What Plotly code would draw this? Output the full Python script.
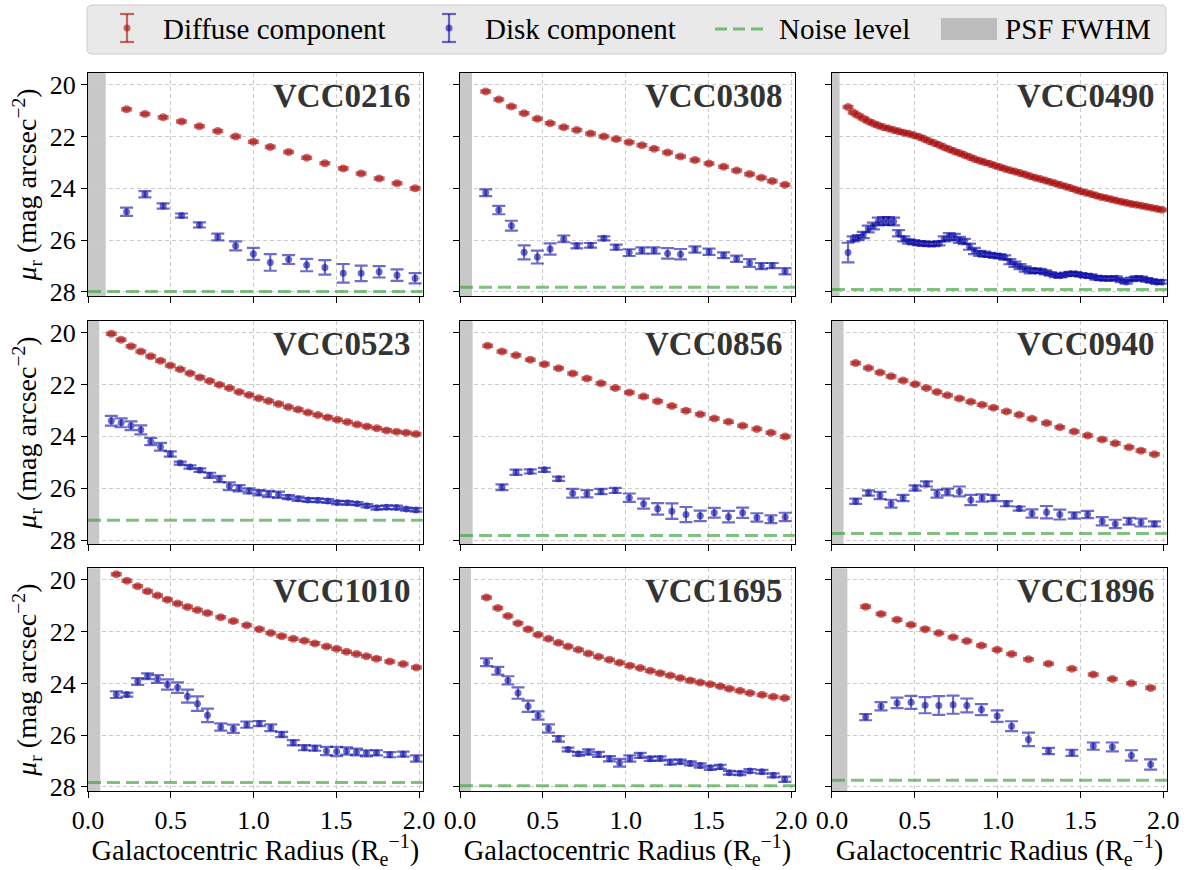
import plotly.graph_objects as go
from plotly.subplots import make_subplots

# ---------------------------------------------------------------------------
# Radial surface-brightness profiles (mu_r, mag arcsec^-2) vs R / R_e
# ---------------------------------------------------------------------------
GALAXIES = ["VCC0216", "VCC0308", "VCC0490",
            "VCC0523", "VCC0856", "VCC0940",
            "VCC1010", "VCC1695", "VCC1896"]

NOISE_LEVEL = [27.98, 27.82, 27.90, 27.23, 27.82, 27.74, 27.83, 27.95, 27.74]
PSF_FWHM = [0.107, 0.072, 0.046, 0.068, 0.076, 0.070, 0.074, 0.066, 0.093]
DIFF_ERR = 0.03

# VCC0216
R_0216 = [0.233, 0.344, 0.454, 0.565, 0.673, 0.784, 0.892, 0.999, 1.101, 1.212,
          1.321, 1.431, 1.542, 1.650, 1.759, 1.867, 1.976]
DIFF_0216 = [20.95, 21.13, 21.26, 21.42, 21.60, 21.79, 22.00, 22.20, 22.40, 22.60,
             22.82, 23.03, 23.23, 23.43, 23.62, 23.80, 24.00]
DISK_0216 = [24.90, 24.23, 24.68, 25.05, 25.41, 25.88, 26.22, 26.53, 26.86, 26.75,
             26.96, 27.05, 27.28, 27.28, 27.22, 27.35, 27.47]
DERR_0216 = [0.16, 0.12, 0.10, 0.08, 0.10, 0.13, 0.17, 0.23, 0.32, 0.17,
             0.24, 0.28, 0.36, 0.30, 0.22, 0.22, 0.20]

# VCC0308
R_0308 = [0.155, 0.234, 0.310, 0.387, 0.467, 0.544, 0.626, 0.705, 0.788, 0.868,
          0.943, 1.021, 1.098, 1.172, 1.253, 1.331, 1.418, 1.503, 1.591, 1.670,
          1.748, 1.819, 1.885, 1.962]
DIFF_0308 = [20.26, 20.57, 20.84, 21.10, 21.31, 21.49, 21.64, 21.75, 21.88, 22.00,
             22.10, 22.22, 22.34, 22.47, 22.62, 22.77, 22.91, 23.04, 23.17, 23.31,
             23.45, 23.59, 23.72, 23.86]
DISK_0308 = [24.17, 24.84, 25.44, 26.47, 26.65, 26.34, 25.95, 26.22, 26.20, 25.93,
             26.27, 26.48, 26.40, 26.40, 26.51, 26.54, 26.36, 26.45, 26.58, 26.72,
             26.88, 27.00, 26.98, 27.20]
DERR_0308 = [0.13, 0.16, 0.19, 0.27, 0.25, 0.22, 0.13, 0.10, 0.09, 0.08,
             0.10, 0.13, 0.12, 0.12, 0.20, 0.20, 0.12, 0.12, 0.11, 0.12,
             0.15, 0.12, 0.10, 0.12]

# VCC0490
R_0490 = [0.097, 0.128, 0.158, 0.189, 0.219, 0.250, 0.280, 0.311, 0.341, 0.372,
          0.402, 0.433, 0.463, 0.494, 0.524, 0.555, 0.585, 0.616, 0.647, 0.677,
          0.708, 0.738, 0.769, 0.799, 0.830, 0.860, 0.891, 0.921, 0.952, 0.982,
          1.013, 1.043, 1.074, 1.104, 1.135, 1.166, 1.196, 1.227, 1.257, 1.288,
          1.318, 1.349, 1.379, 1.410, 1.440, 1.471, 1.501, 1.532, 1.563, 1.593,
          1.624, 1.654, 1.685, 1.715, 1.746, 1.776, 1.807, 1.837, 1.868, 1.898,
          1.929, 1.960, 1.990]
DIFF_0490 = [20.86, 21.07, 21.19, 21.30, 21.41, 21.50, 21.57, 21.64, 21.69, 21.75,
             21.80, 21.85, 21.89, 21.95, 22.01, 22.09, 22.17, 22.25, 22.33, 22.41,
             22.49, 22.57, 22.64, 22.71, 22.79, 22.87, 22.93, 22.99, 23.05, 23.12,
             23.18, 23.24, 23.30, 23.35, 23.41, 23.47, 23.53, 23.59, 23.64, 23.70,
             23.75, 23.81, 23.87, 23.93, 23.99, 24.05, 24.11, 24.17, 24.22, 24.28,
             24.33, 24.37, 24.42, 24.47, 24.52, 24.56, 24.60, 24.63, 24.67, 24.71,
             24.75, 24.79, 24.83]
DISK_0490 = [26.48, 25.95, 25.90, 25.80, 25.57, 25.45, 25.28, 25.26, 25.26, 25.28,
             25.73, 25.95, 26.05, 26.08, 26.12, 26.13, 26.15, 26.15, 26.12, 25.95,
             25.86, 25.89, 25.99, 26.05, 26.25, 26.42, 26.51, 26.54, 26.57, 26.60,
             26.62, 26.67, 26.83, 26.93, 27.02, 27.11, 27.18, 27.18, 27.19, 27.24,
             27.30, 27.36, 27.37, 27.32, 27.29, 27.30, 27.34, 27.37, 27.39, 27.45,
             27.47, 27.48, 27.48, 27.47, 27.55, 27.61, 27.51, 27.47, 27.48, 27.53,
             27.57, 27.62, 27.61]
DERR_0490 = [0.38, 0.10, 0.10, 0.12, 0.13, 0.13, 0.15, 0.15, 0.15, 0.15,
             0.12, 0.10, 0.08, 0.08, 0.08, 0.08, 0.08, 0.08, 0.08, 0.10,
             0.13, 0.13, 0.12, 0.10, 0.12, 0.12, 0.10, 0.10, 0.08, 0.08,
             0.08, 0.08, 0.10, 0.10, 0.10, 0.10, 0.10, 0.08, 0.08, 0.08,
             0.07, 0.07, 0.07, 0.07, 0.07, 0.07, 0.07, 0.07, 0.07, 0.07,
             0.07, 0.07, 0.07, 0.07, 0.07, 0.07, 0.07, 0.07, 0.07, 0.07,
             0.07, 0.07, 0.07]

# VCC0523
R_0523 = [0.141, 0.200, 0.260, 0.319, 0.379, 0.438, 0.497, 0.557, 0.616, 0.676,
          0.735, 0.794, 0.854, 0.913, 0.973, 1.032, 1.091, 1.151, 1.210, 1.270,
          1.329, 1.388, 1.448, 1.507, 1.567, 1.626, 1.685, 1.745, 1.804, 1.864,
          1.923, 1.982]
DIFF_0523 = [20.05, 20.28, 20.53, 20.73, 20.92, 21.09, 21.27, 21.42, 21.57, 21.73,
             21.87, 22.01, 22.14, 22.29, 22.41, 22.53, 22.64, 22.75, 22.87, 22.97,
             23.08, 23.18, 23.27, 23.36, 23.45, 23.54, 23.62, 23.69, 23.77, 23.82,
             23.86, 23.91]
DISK_0523 = [23.40, 23.48, 23.59, 23.75, 24.20, 24.40, 24.68, 25.03, 25.18, 25.30,
             25.50, 25.64, 25.92, 26.00, 26.10, 26.17, 26.22, 26.25, 26.34, 26.40,
             26.45, 26.46, 26.49, 26.55, 26.56, 26.59, 26.67, 26.75, 26.73, 26.74,
             26.80, 26.83]
DERR_0523 = [0.19, 0.17, 0.17, 0.17, 0.14, 0.15, 0.10, 0.06, 0.06, 0.07,
             0.10, 0.12, 0.15, 0.12, 0.10, 0.10, 0.12, 0.12, 0.08, 0.08,
             0.07, 0.07, 0.07, 0.07, 0.07, 0.06, 0.06, 0.07, 0.07, 0.07,
             0.06, 0.07]

# VCC0856
R_DIFF_0856 = [0.167, 0.253, 0.338, 0.424, 0.509, 0.595, 0.680, 0.766, 0.851, 0.937,
               1.022, 1.108, 1.193, 1.279, 1.364, 1.450, 1.535, 1.621, 1.706, 1.792,
               1.877, 1.963]
DIFF_0856 = [20.51, 20.73, 20.88, 21.05, 21.22, 21.38, 21.58, 21.77, 21.96, 22.14,
             22.31, 22.47, 22.65, 22.83, 23.01, 23.15, 23.31, 23.44, 23.59, 23.72,
             23.86, 24.01]
R_DISK_0856 = [0.253, 0.338, 0.424, 0.509, 0.595, 0.680, 0.766, 0.851, 0.937,
               1.022, 1.108, 1.193, 1.279, 1.364, 1.450, 1.535, 1.621, 1.706, 1.792,
               1.877, 1.963]
DISK_0856 = [25.96, 25.38, 25.35, 25.29, 25.63, 26.19, 26.21, 26.12, 26.08, 26.36,
             26.59, 26.79, 26.88, 27.01, 27.06, 26.94, 27.09, 26.94, 27.12, 27.19,
             27.10]
DERR_0856 = [0.11, 0.10, 0.08, 0.08, 0.08, 0.17, 0.14, 0.10, 0.10, 0.16,
             0.19, 0.22, 0.30, 0.29, 0.20, 0.19, 0.22, 0.20, 0.16, 0.15,
             0.16]

# VCC0940
R_0940 = [0.143, 0.220, 0.290, 0.357, 0.429, 0.502, 0.570, 0.634, 0.697, 0.769,
          0.838, 0.906, 0.975, 1.053, 1.130, 1.207, 1.295, 1.375, 1.462, 1.543,
          1.631, 1.710, 1.793, 1.865, 1.946]
DIFF_0940 = [21.18, 21.37, 21.54, 21.69, 21.85, 21.99, 22.14, 22.29, 22.42, 22.54,
             22.67, 22.78, 22.90, 23.04, 23.17, 23.32, 23.49, 23.65, 23.81, 23.97,
             24.12, 24.27, 24.42, 24.55, 24.69]
DISK_0940 = [26.50, 26.18, 26.28, 26.59, 26.37, 25.99, 25.83, 26.21, 26.14, 26.12,
             26.45, 26.37, 26.37, 26.59, 26.78, 26.97, 26.92, 27.01, 27.05, 27.01,
             27.27, 27.37, 27.27, 27.32, 27.37]
DERR_0940 = [0.10, 0.10, 0.14, 0.15, 0.12, 0.10, 0.10, 0.15, 0.13, 0.19,
             0.20, 0.14, 0.12, 0.10, 0.08, 0.16, 0.24, 0.19, 0.12, 0.14,
             0.16, 0.16, 0.13, 0.15, 0.10]

# VCC1010
R_1010 = [0.171, 0.235, 0.300, 0.360, 0.420, 0.480, 0.541, 0.601, 0.661, 0.722,
          0.802, 0.878, 0.959, 1.035, 1.104, 1.170, 1.240, 1.307, 1.371, 1.441,
          1.502, 1.562, 1.622, 1.682, 1.743, 1.823, 1.904, 1.984]
DIFF_1010 = [19.78, 20.03, 20.24, 20.44, 20.60, 20.76, 20.91, 21.04, 21.16, 21.28,
             21.44, 21.59, 21.75, 21.90, 22.05, 22.17, 22.27, 22.35, 22.45, 22.57,
             22.66, 22.77, 22.86, 22.95, 23.04, 23.15, 23.25, 23.38]
DISK_1010 = [24.43, 24.43, 23.92, 23.72, 23.83, 24.04, 24.16, 24.49, 24.78, 25.23,
             25.68, 25.75, 25.59, 25.55, 25.71, 25.97, 26.29, 26.48, 26.50, 26.61,
             26.63, 26.61, 26.65, 26.70, 26.68, 26.75, 26.73, 26.90]
DERR_1010 = [0.13, 0.08, 0.13, 0.11, 0.15, 0.20, 0.20, 0.25, 0.28, 0.26,
             0.14, 0.16, 0.12, 0.10, 0.13, 0.10, 0.10, 0.10, 0.10, 0.16,
             0.18, 0.14, 0.13, 0.12, 0.10, 0.10, 0.10, 0.12]

# VCC1695
R_1695 = [0.160, 0.228, 0.289, 0.350, 0.411, 0.471, 0.534, 0.594, 0.652, 0.715,
          0.775, 0.836, 0.902, 0.963, 1.025, 1.088, 1.148, 1.208, 1.269, 1.329,
          1.390, 1.450, 1.511, 1.571, 1.626, 1.690, 1.750, 1.823, 1.891, 1.960]
DIFF_1695 = [20.68, 21.08, 21.39, 21.67, 21.90, 22.12, 22.27, 22.43, 22.57, 22.70,
             22.84, 22.97, 23.08, 23.20, 23.31, 23.40, 23.51, 23.60, 23.69, 23.79,
             23.88, 23.96, 24.03, 24.11, 24.20, 24.28, 24.37, 24.44, 24.51, 24.56]
DISK_1695 = [23.18, 23.51, 23.88, 24.37, 24.88, 25.24, 25.74, 26.14, 26.55, 26.72,
             26.65, 26.74, 26.91, 27.06, 26.90, 26.78, 26.91, 26.90, 27.04, 27.02,
             27.09, 27.17, 27.26, 27.22, 27.45, 27.47, 27.38, 27.41, 27.55, 27.70]
DERR_1695 = [0.15, 0.15, 0.16, 0.22, 0.22, 0.16, 0.16, 0.11, 0.07, 0.07,
             0.10, 0.10, 0.10, 0.15, 0.12, 0.10, 0.08, 0.08, 0.10, 0.08,
             0.08, 0.08, 0.08, 0.08, 0.07, 0.07, 0.07, 0.07, 0.08, 0.10]

# VCC1896
R_1896 = [0.203, 0.296, 0.393, 0.477, 0.562, 0.645, 0.731, 0.814, 0.902, 0.997,
          1.084, 1.186, 1.307, 1.448, 1.577, 1.692, 1.807, 1.923]
DIFF_1896 = [21.03, 21.31, 21.54, 21.73, 21.90, 22.05, 22.21, 22.36, 22.53, 22.70,
             22.86, 23.06, 23.24, 23.43, 23.65, 23.83, 23.99, 24.17]
DISK_1896 = [25.30, 24.88, 24.75, 24.73, 24.84, 24.85, 24.82, 24.85, 25.01, 25.26,
             25.65, 26.16, 26.61, 26.68, 26.42, 26.45, 26.78, 27.13]
DERR_1896 = [0.12, 0.16, 0.20, 0.25, 0.31, 0.36, 0.35, 0.27, 0.21, 0.22,
             0.19, 0.26, 0.12, 0.12, 0.14, 0.17, 0.20, 0.20]

profiles = {
    "VCC0216": (R_0216, DIFF_0216, R_0216, DISK_0216, DERR_0216),
    "VCC0308": (R_0308, DIFF_0308, R_0308, DISK_0308, DERR_0308),
    "VCC0490": (R_0490, DIFF_0490, R_0490, DISK_0490, DERR_0490),
    "VCC0523": (R_0523, DIFF_0523, R_0523, DISK_0523, DERR_0523),
    "VCC0856": (R_DIFF_0856, DIFF_0856, R_DISK_0856, DISK_0856, DERR_0856),
    "VCC0940": (R_0940, DIFF_0940, R_0940, DISK_0940, DERR_0940),
    "VCC1010": (R_1010, DIFF_1010, R_1010, DISK_1010, DERR_1010),
    "VCC1695": (R_1695, DIFF_1695, R_1695, DISK_1695, DERR_1695),
    "VCC1896": (R_1896, DIFF_1896, R_1896, DISK_1896, DERR_1896),
}

# ---------------------------------------------------------------------------
# Styling
# ---------------------------------------------------------------------------
W, H = 1191, 870
ML, MR, MT, MB = 88, 24, 73, 79
FONT = "Liberation Serif"
DIFF_COLOR = "rgba(170,20,20,0.62)"
DISK_COLOR = "rgba(10,10,165,0.6)"
NOISE_COLOR = "rgba(60,160,60,0.65)"
PSF_COLOR = "#c8c8c8"
X_RANGE = [0, 2.022]
Y_RANGE = [28.155, 19.548]

X_DOMAINS = [[0.0, 0.3102], [0.3448, 0.6552], [0.6895, 1.0]]
Y_DOMAINS = [[0.6894, 1.0], [0.3436, 0.655], [0.0, 0.3102]]

fig = make_subplots(rows=3, cols=3)

for i, name in enumerate(GALAXIES):
    r, c = divmod(i, 3)
    k = i + 1
    sfx = "" if k == 1 else str(k)
    r_diff, mu_diff, r_disk, mu_disk, err_disk = profiles[name]

    fig.add_trace(go.Scatter(
        x=r_diff, y=mu_diff, mode="markers",
        marker=dict(color=DIFF_COLOR, size=8),
        error_y=dict(type="constant", value=DIFF_ERR, color=DIFF_COLOR,
                     thickness=3, width=5.5),
        showlegend=False), row=r + 1, col=c + 1)
    fig.add_trace(go.Scatter(
        x=r_disk, y=mu_disk, mode="markers",
        marker=dict(color=DISK_COLOR, size=7),
        error_y=dict(type="data", array=err_disk, color=DISK_COLOR,
                     thickness=2.2, width=6.5),
        showlegend=False), row=r + 1, col=c + 1)

    # PSF FWHM band
    fig.add_shape(type="rect", xref="x" + sfx, yref="y" + sfx + " domain",
                  x0=0, x1=PSF_FWHM[i], y0=0, y1=1,
                  fillcolor=PSF_COLOR, line_width=0, layer="below")
    # noise level
    fig.add_shape(type="line", xref="x" + sfx + " domain", yref="y" + sfx,
                  x0=0, x1=1, y0=NOISE_LEVEL[i], y1=NOISE_LEVEL[i],
                  line=dict(color=NOISE_COLOR, width=3, dash="13px,6px"),
                  layer="above")
    # galaxy name
    fig.add_annotation(xref="x" + sfx + " domain", yref="y" + sfx + " domain",
                       x=0.97, y=0.897, xanchor="right", yanchor="middle",
                       text="<b>" + name + "</b>", showarrow=False,
                       font=dict(family=FONT, size=33, color="#333333"))

    fig.layout["xaxis" + sfx].domain = X_DOMAINS[c]
    fig.layout["yaxis" + sfx].domain = Y_DOMAINS[r]
    fig.layout["xaxis" + sfx].showticklabels = (r == 2)
    fig.layout["yaxis" + sfx].showticklabels = (c == 0)
    if r == 2:
        fig.layout["xaxis" + sfx].title = dict(
            text="Galactocentric Radius (R<sub>e</sub><sup>\u22121</sup>)",
            font=dict(family=FONT, size=28.5, color="black"), standoff=4)
    if c == 0:
        fig.layout["yaxis" + sfx].title = dict(
            text="<i>\u03bc</i><sub>r</sub> (mag arcsec<sup>\u22122</sup>)",
            font=dict(family=FONT, size=28, color="black"), standoff=4)

axis_style = dict(showgrid=True, gridcolor="#cccccc", gridwidth=1, griddash="4px,3px",
                  showline=True, linecolor="black", linewidth=1.3, mirror=True,
                  ticks="outside", ticklen=6, tickwidth=1.3, tickcolor="black",
                  zeroline=False, tickfont=dict(family=FONT, size=26, color="black"))
fig.update_xaxes(range=X_RANGE, tickvals=[0, 0.5, 1, 1.5, 2],
                 ticktext=["0.0", "0.5", "1.0", "1.5", "2.0"], **axis_style)
fig.update_yaxes(range=Y_RANGE, tickvals=[20, 22, 24, 26, 28], **axis_style)

# ---------------------------------------------------------------------------
# Legend (drawn in paper coordinates above the grid)
# ---------------------------------------------------------------------------
PW, PH = W - ML - MR, H - MT - MB


def px(x):
    return (x - ML) / PW


def py(y):
    return (H - MB - y) / PH


def rounded_box(x0, y0, x1, y1, rad):
    return (f"M {px(x0 + rad)},{py(y0)} L {px(x1 - rad)},{py(y0)} "
            f"Q {px(x1)},{py(y0)} {px(x1)},{py(y0 + rad)} "
            f"L {px(x1)},{py(y1 - rad)} Q {px(x1)},{py(y1)} {px(x1 - rad)},{py(y1)} "
            f"L {px(x0 + rad)},{py(y1)} Q {px(x0)},{py(y1)} {px(x0)},{py(y1 - rad)} "
            f"L {px(x0)},{py(y0 + rad)} Q {px(x0)},{py(y0)} {px(x0 + rad)},{py(y0)} Z")


fig.add_shape(type="path", xref="paper", yref="paper",
              path=rounded_box(87, 5, 1166, 54, 5),
              fillcolor="#e9e9e9", line=dict(color="#cccccc", width=1))


def errorbar_icon(xc, color):
    fig.add_shape(type="line", xref="paper", yref="paper",
                  x0=px(xc), x1=px(xc), y0=py(14), y1=py(42),
                  line=dict(color=color, width=2.2))
    for yy in (14, 42):
        fig.add_shape(type="line", xref="paper", yref="paper",
                      x0=px(xc - 7), x1=px(xc + 7), y0=py(yy), y1=py(yy),
                      line=dict(color=color, width=2.2))
    fig.add_shape(type="circle", xref="paper", yref="paper",
                  x0=px(xc - 3.5), x1=px(xc + 3.5), y0=py(31.5), y1=py(24.5),
                  fillcolor=color, line_width=0)


errorbar_icon(127, DIFF_COLOR)
errorbar_icon(449, DISK_COLOR)
fig.add_shape(type="line", xref="paper", yref="paper",
              x0=px(715), x1=px(765), y0=py(29), y1=py(29),
              line=dict(color=NOISE_COLOR, width=3, dash="12px,6px"))
fig.add_shape(type="rect", xref="paper", yref="paper",
              x0=px(941), x1=px(997), y0=py(40), y1=py(18),
              fillcolor="#bcbcbc", line_width=0)

for label, xl in [("Diffuse component", 161), ("Disk component", 483),
                  ("Noise level", 777), ("PSF FWHM", 1003)]:
    fig.add_annotation(xref="paper", yref="paper", x=px(xl), y=py(29),
                       xanchor="left", yanchor="middle", text=label,
                       showarrow=False,
                       font=dict(family=FONT, size=29, color="black"))

fig.update_layout(width=W, height=H,
                  margin=dict(l=ML, r=MR, t=MT, b=MB),
                  plot_bgcolor="white", paper_bgcolor="white",
                  font=dict(family=FONT, color="black"),
                  showlegend=False)

fig.write_html("out.html")
